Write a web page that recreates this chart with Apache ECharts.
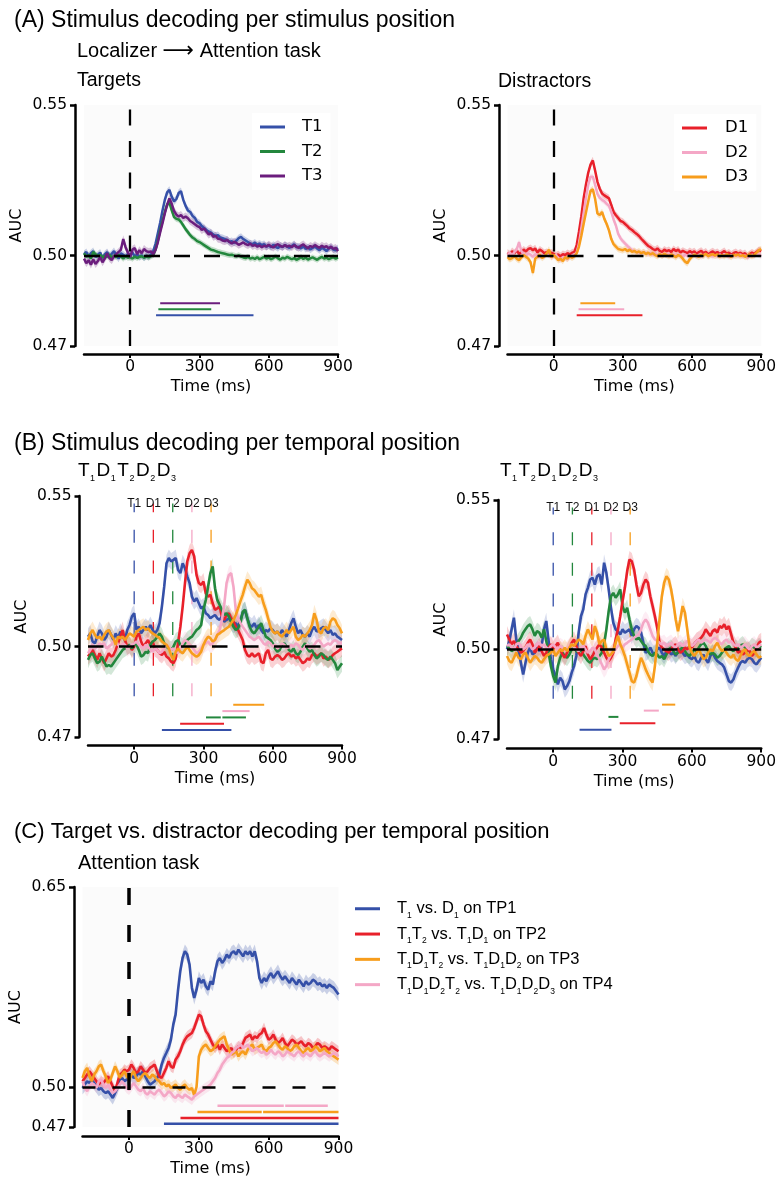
<!DOCTYPE html>
<html>
<head>
<meta charset="utf-8">
<script src="https://cdn.jsdelivr.net/npm/echarts@6/dist/echarts.min.js"></script>
<style>html,body{margin:0;padding:0;background:#fff}#chart{width:779px;height:1180px}</style>
</head>
<body>
<div id="chart"></div>
<script>
// ---------- sampling grid (ms) ----------
const TIME_START = -200, TIME_STEP = 10, N_SAMPLES = 111;
const times = [];
for (let i = 0; i < N_SAMPLES; i++) times.push(TIME_START + i * TIME_STEP);

// ---------- tick labels ----------
const xTickValues = [0, 300, 600, 900];
const yTicksStim = [0.47, 0.50, 0.55];
const yTicksTP = [0.47, 0.50, 0.65];
const CHANCE = 0.5, ONSET = 0;

// ---------- (A) Targets ----------
const aT1 = [0.5005,0.5012,0.4998,0.5008,0.5015,0.4995,0.5003,0.5010,0.4992,0.5004,
0.5012,0.4998,0.5006,0.5015,0.5001,0.4990,0.5008,0.5003,0.4996,0.5005,
0.5002,0.5010,0.4997,0.5004,0.4995,0.5001,0.4993,0.5000,0.4996,0.5003,
0.5015,0.5040,0.5075,0.5110,0.5150,0.5185,0.5210,0.5218,0.5195,0.5180,
0.5188,0.5208,0.5214,0.5185,0.5165,0.5150,0.5145,0.5132,0.5125,0.5112,
0.5108,0.5098,0.5092,0.5085,0.5080,0.5076,0.5070,0.5066,0.5068,0.5060,
0.5058,0.5055,0.5052,0.5046,0.5048,0.5042,0.5050,0.5058,0.5062,0.5055,
0.5050,0.5045,0.5040,0.5038,0.5043,0.5036,0.5040,0.5035,0.5038,0.5030,
0.5034,0.5028,0.5036,0.5030,0.5025,0.5033,0.5028,0.5035,0.5030,0.5026,
0.5032,0.5038,0.5028,0.5030,0.5024,0.5031,0.5022,0.5028,0.5020,0.5026,
0.5030,0.5024,0.5018,0.5026,0.5022,0.5015,0.5024,0.5028,0.5020,0.5018,0.5025];
const aT2 = [0.5008,0.4996,0.5002,0.4990,0.5012,0.5005,0.4998,0.5003,0.4994,0.5000,
0.4996,0.5004,0.4993,0.5000,0.4995,0.5002,0.4997,0.4990,0.4998,0.4993,
0.4995,0.4990,0.4997,0.4992,0.4996,0.4998,0.4993,0.4997,0.4994,0.4998,
0.5002,0.5020,0.5050,0.5085,0.5115,0.5145,0.5170,0.5175,0.5150,0.5128,
0.5122,0.5120,0.5112,0.5100,0.5088,0.5078,0.5068,0.5060,0.5055,0.5048,
0.5045,0.5040,0.5035,0.5030,0.5025,0.5020,0.5018,0.5015,0.5012,0.5010,
0.5008,0.5006,0.5004,0.5002,0.5003,0.5000,0.4998,0.5001,0.4997,0.4994,
0.4992,0.4996,0.4990,0.4993,0.4989,0.4995,0.4988,0.4992,0.4996,0.4990,
0.4994,0.4988,0.4992,0.4997,0.4991,0.4987,0.4993,0.4990,0.4996,0.4992,
0.4988,0.4992,0.4986,0.4990,0.4995,0.4989,0.4993,0.4987,0.4991,0.4994,
0.4990,0.4986,0.4992,0.4996,0.4990,0.4993,0.4988,0.4992,0.4995,0.4990,0.4994];
const aT3 = [0.4990,0.4975,0.4985,0.4970,0.4988,0.4972,0.4982,0.4995,0.4978,0.4990,
0.5008,0.4992,0.4985,0.4998,0.5005,0.5012,0.5020,0.5055,0.5028,0.5010,
0.4995,0.5020,0.5025,0.5005,0.5018,0.5008,0.5022,0.5015,0.5012,0.5014,
0.5005,0.5020,0.5045,0.5078,0.5108,0.5140,0.5168,0.5190,0.5172,0.5148,
0.5136,0.5130,0.5135,0.5125,0.5130,0.5124,0.5115,0.5110,0.5104,0.5098,
0.5095,0.5085,0.5090,0.5080,0.5070,0.5075,0.5062,0.5066,0.5056,0.5055,
0.5050,0.5048,0.5052,0.5045,0.5040,0.5046,0.5042,0.5036,0.5040,0.5044,
0.5038,0.5035,0.5040,0.5032,0.5036,0.5030,0.5034,0.5028,0.5033,0.5030,
0.5036,0.5031,0.5027,0.5034,0.5038,0.5032,0.5029,0.5035,0.5030,0.5033,
0.5028,0.5035,0.5030,0.5026,0.5033,0.5037,0.5030,0.5024,0.5032,0.5028,
0.5035,0.5030,0.5026,0.5033,0.5028,0.5031,0.5024,0.5030,0.5022,0.5026,0.5015];

// ---------- (A) Distractors ----------
const aD1 = [0.5010,0.5003,0.5015,0.5008,0.5018,0.5005,0.5012,0.5020,0.5014,0.5022,
0.5025,0.5018,0.5024,0.5010,0.5020,0.5015,0.5008,0.5012,0.5005,0.5010,
0.5006,0.5000,0.5004,0.4998,0.5005,0.5002,0.5008,0.5004,0.5010,0.5012,
0.5035,0.5080,0.5130,0.5190,0.5235,0.5275,0.5302,0.5316,0.5282,0.5245,
0.5222,0.5206,0.5200,0.5195,0.5190,0.5168,0.5145,0.5134,0.5125,0.5115,
0.5112,0.5105,0.5098,0.5090,0.5085,0.5078,0.5072,0.5065,0.5056,0.5048,
0.5040,0.5032,0.5028,0.5022,0.5018,0.5024,0.5016,0.5012,0.5020,0.5015,
0.5018,0.5012,0.5022,0.5015,0.5020,0.5010,0.5016,0.5012,0.5008,0.5015,
0.5010,0.5014,0.5006,0.5012,0.5016,0.5008,0.5013,0.5004,0.5010,0.5014,
0.5008,0.5012,0.5005,0.5010,0.5015,0.5006,0.5010,0.5003,0.5008,0.5012,
0.5006,0.5010,0.5004,0.5008,0.4998,0.5005,0.5010,0.5006,0.5012,0.5018,0.5015];
const aD2 = [0.5002,0.5010,0.5000,0.5012,0.5020,0.5045,0.5015,0.5005,0.4998,0.5008,
0.5003,0.4996,0.5005,0.5000,0.4994,0.5002,0.4998,0.5006,0.5001,0.4995,
0.4998,0.5003,0.4990,0.4985,0.4995,0.4992,0.4988,0.4996,0.5000,0.5004,
0.5010,0.5040,0.5090,0.5140,0.5190,0.5235,0.5262,0.5262,0.5235,0.5205,
0.5192,0.5185,0.5180,0.5172,0.5165,0.5145,0.5120,0.5100,0.5072,0.5058,
0.5048,0.5040,0.5032,0.5025,0.5018,0.5015,0.5012,0.5010,0.5008,0.5012,
0.5008,0.5005,0.5010,0.5003,0.5008,0.5002,0.5006,0.5000,0.5005,0.5002,
0.5006,0.5000,0.5004,0.4998,0.5005,0.5001,0.4996,0.5003,0.4999,0.5004,
0.5000,0.5005,0.4998,0.5003,0.4996,0.5002,0.5006,0.4999,0.5003,0.4997,
0.5002,0.4998,0.5004,0.4999,0.5005,0.5000,0.4996,0.5002,0.4998,0.5003,
0.4999,0.5004,0.4997,0.5001,0.4994,0.4998,0.5003,0.4999,0.5006,0.5003,0.4998];
const aD3 = [0.4995,0.4988,0.4992,0.4998,0.4990,0.4985,0.4994,0.5002,0.4996,0.4990,
0.4978,0.4942,0.4990,0.4996,0.5003,0.4992,0.4998,0.5008,0.5020,0.4995,
0.5003,0.4994,0.4985,0.4990,0.4982,0.4995,0.4990,0.4998,0.4993,0.4998,
0.5008,0.5030,0.5065,0.5105,0.5142,0.5180,0.5215,0.5220,0.5188,0.5140,
0.5135,0.5145,0.5122,0.5105,0.5084,0.5055,0.5038,0.5030,0.5022,0.5020,
0.5018,0.5022,0.5015,0.5020,0.5012,0.5016,0.5010,0.5014,0.5008,0.5012,
0.5005,0.5010,0.5004,0.5008,0.5002,0.4998,0.5005,0.5000,0.5006,0.5002,
0.4998,0.5004,0.5000,0.4995,0.5002,0.4998,0.4990,0.4980,0.4975,0.4988,
0.4998,0.5004,0.5000,0.4996,0.5003,0.5000,0.5006,0.4998,0.5002,0.5005,
0.5000,0.5004,0.4997,0.5002,0.4998,0.5005,0.5001,0.4996,0.5003,0.5000,
0.5004,0.4998,0.5002,0.4996,0.5000,0.5004,0.4998,0.5003,0.5010,0.5018,0.5022];

// ---------- (B) T1 D1 T2 D2 D3 ----------
const blT1 = [0.5033,0.5044,0.5017,0.5011,0.5033,0.5055,0.5044,0.5022,0.5033,0.5055,
0.5039,0.5022,0.5044,0.5028,0.5050,0.5033,0.5022,0.5055,0.5072,0.5100,
0.5111,0.5055,0.5066,0.5044,0.5055,0.5066,0.5055,0.5072,0.5055,0.5044,
0.5055,0.5078,0.5133,0.5199,0.5277,0.5294,0.5283,0.5288,0.5294,0.5255,
0.5244,0.5277,0.5260,0.5233,0.5211,0.5166,0.5150,0.5161,0.5144,0.5127,
0.5133,0.5111,0.5105,0.5094,0.5100,0.5105,0.5094,0.5089,0.5100,0.5083,
0.5089,0.5094,0.5083,0.5072,0.5078,0.5066,0.5089,0.5111,0.5122,0.5094,
0.5072,0.5066,0.5078,0.5061,0.5072,0.5055,0.5044,0.5055,0.5050,0.5061,
0.5055,0.5044,0.5050,0.5039,0.5055,0.5044,0.5033,0.5055,0.5078,0.5094,
0.5066,0.5044,0.5055,0.5039,0.5033,0.5044,0.5033,0.5055,0.5066,0.5050,
0.5055,0.5061,0.5066,0.5055,0.5044,0.5055,0.5039,0.5044,0.5033,0.5028,0.5022];
const blD1 = [0.4967,0.4978,0.4989,0.4972,0.4956,0.4978,0.4961,0.4945,0.4961,0.4978,
0.4967,0.4972,0.4989,0.5011,0.5033,0.5055,0.5022,0.5000,0.5006,0.4989,
0.5000,0.5033,0.5044,0.5017,0.5000,0.5011,0.5022,0.5006,0.5017,0.4994,
0.4989,0.4978,0.4972,0.4983,0.4967,0.4961,0.4950,0.4945,0.4961,0.5011,
0.5066,0.5133,0.5211,0.5283,0.5310,0.5321,0.5299,0.5238,0.5211,0.5205,
0.5216,0.5177,0.5166,0.5172,0.5144,0.5122,0.5127,0.5133,0.5100,0.5089,
0.5105,0.5111,0.5094,0.5083,0.5066,0.5055,0.5039,0.5022,0.4989,0.4972,
0.4967,0.4978,0.4967,0.4972,0.4978,0.4950,0.4945,0.4978,0.4989,0.4961,
0.4956,0.4967,0.4972,0.4967,0.4956,0.4961,0.4972,0.4978,0.4967,0.4972,
0.4961,0.4967,0.4956,0.4945,0.4950,0.4961,0.4956,0.4972,0.4978,0.4967,
0.4972,0.4978,0.4961,0.4967,0.4956,0.4961,0.4972,0.4978,0.4983,0.4989,0.4994];
const blT2 = [0.4956,0.4972,0.4978,0.4961,0.4945,0.4950,0.4967,0.4950,0.4934,0.4939,
0.4934,0.4945,0.4956,0.4967,0.4978,0.4989,0.4994,0.5000,0.5006,0.4994,
0.5011,0.5006,0.4989,0.4967,0.4972,0.4983,0.4978,0.5006,0.5017,0.5022,
0.5033,0.5044,0.5033,0.5011,0.5000,0.4994,0.4989,0.5000,0.5017,0.5022,
0.5006,0.5000,0.5011,0.5022,0.5028,0.5033,0.5044,0.5055,0.5061,0.5072,
0.5122,0.5155,0.5199,0.5244,0.5266,0.5194,0.5155,0.5139,0.5122,0.5105,
0.5111,0.5100,0.5083,0.5066,0.5055,0.5061,0.5078,0.5116,0.5122,0.5094,
0.5066,0.5050,0.5044,0.5055,0.5066,0.5078,0.5055,0.5033,0.5028,0.5022,
0.5011,0.4994,0.4983,0.4989,0.5006,0.5011,0.5000,0.4989,0.4983,0.4994,
0.4978,0.4972,0.4983,0.5000,0.5011,0.4994,0.4983,0.4989,0.4972,0.4961,
0.4967,0.4978,0.4972,0.4961,0.4956,0.4967,0.4956,0.4945,0.4922,0.4934,0.4945];
const blD2 = [0.4978,0.4989,0.5006,0.4994,0.5000,0.5011,0.5006,0.5011,0.4994,0.5000,
0.5006,0.5017,0.5022,0.5006,0.5000,0.5011,0.5006,0.4994,0.5000,0.5006,
0.5011,0.5017,0.5006,0.5000,0.4994,0.5006,0.5000,0.4989,0.4983,0.4994,
0.4989,0.4978,0.4983,0.4994,0.5006,0.5000,0.4989,0.4994,0.4983,0.4978,
0.4994,0.5011,0.5022,0.5017,0.5006,0.5000,0.4989,0.4978,0.4983,0.4994,
0.5006,0.5011,0.5017,0.5006,0.5011,0.5022,0.5039,0.5055,0.5089,0.5139,
0.5211,0.5238,0.5244,0.5199,0.5122,0.5094,0.5078,0.5066,0.5055,0.5044,
0.5033,0.5028,0.5022,0.5028,0.5033,0.5022,0.5011,0.5006,0.5017,0.5011,
0.5000,0.5006,0.4994,0.5000,0.5011,0.5006,0.4994,0.5000,0.5006,0.5000,
0.5011,0.5006,0.4994,0.4989,0.5000,0.5006,0.4994,0.5000,0.5006,0.5017,
0.5022,0.5011,0.5000,0.5006,0.5011,0.5006,0.5017,0.5022,0.5017,0.5011,0.5011];
const blD3 = [0.5022,0.5044,0.5055,0.5039,0.5028,0.5033,0.5022,0.5039,0.5050,0.5055,
0.5039,0.5028,0.5006,0.5033,0.5028,0.5033,0.5022,0.5033,0.5044,0.5039,
0.5033,0.5050,0.5055,0.5061,0.5066,0.5055,0.5061,0.5050,0.5044,0.5039,
0.5033,0.5028,0.5017,0.5011,0.5006,0.4994,0.4972,0.4956,0.4983,0.4994,
0.4983,0.4978,0.4989,0.5000,0.4989,0.4978,0.4972,0.4967,0.4972,0.4983,
0.5006,0.5022,0.5033,0.5028,0.5017,0.5022,0.5039,0.5044,0.5050,0.5055,
0.5061,0.5066,0.5078,0.5089,0.5105,0.5127,0.5150,0.5172,0.5199,0.5222,
0.5211,0.5194,0.5188,0.5177,0.5166,0.5172,0.5144,0.5122,0.5094,0.5066,
0.5050,0.5044,0.5050,0.5039,0.5033,0.5044,0.5055,0.5044,0.5055,0.5066,
0.5033,0.5022,0.5028,0.5039,0.5033,0.5044,0.5055,0.5072,0.5111,0.5089,
0.5050,0.5044,0.5061,0.5066,0.5055,0.5083,0.5094,0.5089,0.5072,0.5061,0.5044];

// ---------- (B) T1 T2 D1 D2 D3 ----------
const brT1 = [0.5000,0.5028,0.5067,0.5106,0.5033,0.4994,0.4955,0.4916,0.4955,0.4989,
0.5006,0.4983,0.4989,0.5006,0.4994,0.5011,0.5067,0.5095,0.5028,0.4967,
0.4933,0.4911,0.4883,0.4905,0.4894,0.4866,0.4877,0.4894,0.4922,0.4944,
0.4978,0.5056,0.5111,0.5134,0.5184,0.5206,0.5234,0.5240,0.5217,0.5245,
0.5251,0.5217,0.5290,0.5256,0.5201,0.5139,0.5089,0.5067,0.5061,0.5050,
0.5067,0.5056,0.5061,0.5067,0.5045,0.5067,0.5078,0.5072,0.5056,0.5022,
0.4989,0.4994,0.5006,0.4989,0.4983,0.5000,0.5006,0.4989,0.4978,0.4994,
0.5000,0.4983,0.4989,0.4978,0.4994,0.5000,0.4989,0.4978,0.4983,0.4972,
0.4967,0.4978,0.4961,0.4955,0.4972,0.4983,0.4967,0.4955,0.4978,0.4989,
0.4972,0.4961,0.4955,0.4950,0.4939,0.4916,0.4894,0.4889,0.4900,0.4922,
0.4939,0.4955,0.4961,0.4955,0.4967,0.4972,0.4967,0.4955,0.4950,0.4961,0.4972];
const brT2 = [0.5011,0.5006,0.4994,0.5000,0.5017,0.5028,0.5039,0.5056,0.5067,0.5078,
0.5084,0.5067,0.5045,0.5061,0.5056,0.5039,0.5067,0.5028,0.4989,0.4944,
0.4911,0.4889,0.4944,0.4972,0.4989,0.4978,0.4972,0.4983,0.5000,0.5006,
0.4994,0.4989,0.5000,0.4983,0.4972,0.4961,0.4955,0.4967,0.4972,0.4967,
0.4978,0.4989,0.5017,0.5067,0.5128,0.5178,0.5189,0.5173,0.5184,0.5201,
0.5145,0.5123,0.5139,0.5100,0.5067,0.5045,0.5033,0.5039,0.5028,0.5017,
0.5011,0.4994,0.4983,0.4978,0.4989,0.4983,0.4972,0.4978,0.4967,0.4983,
0.5000,0.5006,0.4994,0.4983,0.4989,0.5000,0.5006,0.4994,0.4983,0.4978,
0.4989,0.5000,0.4994,0.5006,0.5017,0.5022,0.5011,0.4994,0.4983,0.4989,
0.4983,0.4972,0.4978,0.4989,0.5000,0.5006,0.5011,0.5000,0.4994,0.5006,
0.5000,0.5011,0.5017,0.5006,0.4994,0.5000,0.5011,0.5006,0.5000,0.5011,0.5006];
const brD1 = [0.5050,0.5033,0.5017,0.5028,0.5011,0.5000,0.4989,0.4994,0.5006,0.5022,
0.5033,0.5017,0.4989,0.5000,0.5011,0.4994,0.4978,0.4989,0.5006,0.5017,
0.5000,0.5011,0.5022,0.5000,0.4983,0.4972,0.4989,0.5006,0.5022,0.5033,
0.5011,0.4989,0.4978,0.4994,0.5011,0.4983,0.4967,0.4978,0.4994,0.5006,
0.5017,0.5006,0.4989,0.4972,0.4961,0.4972,0.4989,0.5033,0.5067,0.5111,
0.5162,0.5206,0.5262,0.5301,0.5295,0.5267,0.5217,0.5178,0.5189,0.5217,
0.5234,0.5223,0.5178,0.5145,0.5111,0.5072,0.5022,0.5006,0.5000,0.4994,
0.4989,0.5000,0.5011,0.5017,0.5000,0.4989,0.4994,0.5006,0.5000,0.5011,
0.5006,0.5017,0.5028,0.5033,0.5039,0.5050,0.5067,0.5056,0.5045,0.5061,
0.5067,0.5056,0.5078,0.5072,0.5084,0.5067,0.5078,0.5050,0.5022,0.5006,
0.4989,0.4994,0.4983,0.4989,0.5000,0.4994,0.4978,0.4989,0.5006,0.5022,0.5028];
const brD2 = [0.5011,0.5017,0.5006,0.5000,0.5017,0.5022,0.5011,0.5000,0.5006,0.5017,
0.5011,0.5000,0.5006,0.5017,0.5022,0.5011,0.5017,0.5006,0.5000,0.5011,
0.5017,0.5006,0.5000,0.5011,0.5006,0.4994,0.5000,0.5011,0.5017,0.5006,
0.5000,0.4994,0.5006,0.5011,0.5000,0.4989,0.4994,0.5006,0.5000,0.4983,
0.4967,0.4950,0.4933,0.4944,0.4967,0.4983,0.4994,0.5000,0.5011,0.5017,
0.5006,0.5017,0.5022,0.5028,0.5033,0.5039,0.5045,0.5050,0.5067,0.5089,
0.5100,0.5089,0.5067,0.5045,0.5033,0.5028,0.5022,0.5017,0.5022,0.5011,
0.5017,0.5022,0.5011,0.5006,0.5017,0.5022,0.5011,0.5017,0.5028,0.5022,
0.5011,0.5017,0.5028,0.5033,0.5022,0.5028,0.5033,0.5028,0.5022,0.5033,
0.5039,0.5033,0.5022,0.5017,0.5028,0.5033,0.5022,0.5028,0.5017,0.5011,
0.5017,0.5006,0.5011,0.5017,0.5006,0.5000,0.5011,0.5017,0.5006,0.5011,0.5017];
const brD3 = [0.4978,0.4961,0.4955,0.4972,0.4989,0.4972,0.4967,0.4983,0.4989,0.4972,
0.4955,0.4967,0.4978,0.4972,0.4961,0.4955,0.4967,0.4978,0.4983,0.4989,
0.5000,0.4978,0.4989,0.5000,0.4994,0.5006,0.4994,0.5006,0.5017,0.5011,
0.5022,0.5033,0.5028,0.5017,0.5045,0.5067,0.5050,0.5033,0.5078,0.5056,
0.5017,0.5028,0.5033,0.5000,0.4978,0.4983,0.4994,0.5022,0.5045,0.5017,
0.5000,0.4978,0.4950,0.4922,0.4894,0.4889,0.4911,0.4944,0.4972,0.4955,
0.4933,0.4916,0.4900,0.4889,0.4944,0.5022,0.5100,0.5178,0.5223,0.5245,
0.5234,0.5201,0.5156,0.5100,0.5061,0.5100,0.5145,0.5123,0.5067,0.5006,
0.4989,0.4978,0.4989,0.5000,0.4983,0.4967,0.4972,0.4989,0.5000,0.4994,
0.5011,0.5022,0.5006,0.4994,0.5000,0.4989,0.4978,0.4972,0.4983,0.4967,
0.4961,0.4978,0.4994,0.5000,0.4983,0.4978,0.4989,0.4994,0.4983,0.4972,0.4978];

// ---------- (C) target vs distractor per temporal position ----------
const cTP1 = [0.4993,0.5018,0.5043,0.5030,0.5055,0.5030,0.5005,0.4980,0.4993,0.4968,
0.4955,0.4968,0.4943,0.4918,0.4955,0.4993,0.5055,0.5068,0.5043,0.5055,
0.5080,0.5093,0.5068,0.5080,0.5105,0.5093,0.5118,0.5080,0.5043,0.5018,
0.5030,0.5043,0.5068,0.5093,0.5168,0.5218,0.5255,0.5293,0.5355,0.5468,
0.5543,0.5718,0.5868,0.5968,0.6018,0.5993,0.5918,0.5743,0.5668,0.5730,
0.5818,0.5780,0.5805,0.5755,0.5730,0.5793,0.5768,0.5868,0.5943,0.5968,
0.5930,0.5955,0.5993,0.5968,0.6005,0.6018,0.5993,0.6030,0.6005,0.5980,
0.6018,0.5993,0.6018,0.5980,0.6018,0.5943,0.5818,0.5780,0.5818,0.5793,
0.5830,0.5855,0.5818,0.5843,0.5868,0.5830,0.5805,0.5830,0.5805,0.5780,
0.5818,0.5793,0.5768,0.5805,0.5780,0.5755,0.5793,0.5768,0.5780,0.5805,
0.5793,0.5768,0.5780,0.5755,0.5768,0.5743,0.5768,0.5755,0.5743,0.5718,0.5693];
const cTP2 = [0.5043,0.5068,0.5093,0.5118,0.5093,0.5068,0.5043,0.5018,0.5043,0.5030,
0.5055,0.5080,0.5043,0.5005,0.4968,0.5030,0.5093,0.5105,0.5130,0.5118,
0.5130,0.5168,0.5143,0.5105,0.5118,0.5155,0.5130,0.5105,0.5118,0.5143,
0.5155,0.5168,0.5118,0.5080,0.5068,0.5105,0.5143,0.5193,0.5155,0.5143,
0.5205,0.5230,0.5268,0.5318,0.5355,0.5380,0.5393,0.5405,0.5443,0.5493,
0.5543,0.5530,0.5468,0.5418,0.5393,0.5355,0.5318,0.5293,0.5318,0.5280,
0.5318,0.5293,0.5268,0.5280,0.5293,0.5255,0.5280,0.5305,0.5293,0.5330,
0.5368,0.5380,0.5393,0.5355,0.5380,0.5368,0.5393,0.5405,0.5443,0.5393,
0.5355,0.5368,0.5393,0.5355,0.5330,0.5343,0.5368,0.5330,0.5305,0.5330,
0.5355,0.5343,0.5318,0.5330,0.5343,0.5318,0.5305,0.5330,0.5318,0.5293,
0.5305,0.5330,0.5318,0.5293,0.5305,0.5293,0.5280,0.5305,0.5293,0.5280,0.5268];
const cTP3 = [0.5068,0.5118,0.5143,0.5080,0.5043,0.5093,0.5118,0.5155,0.5168,0.5118,
0.5080,0.5030,0.5055,0.5105,0.5155,0.5118,0.5068,0.5093,0.5118,0.5080,
0.5055,0.5093,0.5118,0.5068,0.5043,0.5068,0.5093,0.5105,0.5080,0.5068,
0.5093,0.5080,0.5055,0.5043,0.5018,0.5030,0.5005,0.5018,0.4993,0.5005,
0.5018,0.4993,0.4980,0.5005,0.5018,0.4993,0.4980,0.4993,0.4940,0.5000,
0.5230,0.5280,0.5305,0.5318,0.5293,0.5268,0.5280,0.5305,0.5330,0.5355,
0.5368,0.5380,0.5318,0.5280,0.5243,0.5255,0.5268,0.5230,0.5255,0.5268,
0.5243,0.5280,0.5305,0.5318,0.5280,0.5293,0.5305,0.5318,0.5280,0.5268,
0.5293,0.5305,0.5330,0.5343,0.5318,0.5293,0.5280,0.5305,0.5293,0.5268,
0.5280,0.5305,0.5318,0.5293,0.5268,0.5255,0.5280,0.5293,0.5268,0.5280,
0.5305,0.5293,0.5268,0.5280,0.5293,0.5268,0.5255,0.5243,0.5230,0.5218,0.5205];
const cTP4 = [0.5043,0.4993,0.4968,0.5005,0.5030,0.5018,0.4993,0.5043,0.5055,0.5018,
0.4993,0.5018,0.4980,0.4955,0.4968,0.4993,0.5018,0.5043,0.5018,0.4993,
0.4980,0.5005,0.5030,0.5005,0.4980,0.4968,0.4993,0.4955,0.4943,0.4968,
0.4955,0.4943,0.4968,0.4980,0.4955,0.4930,0.4943,0.4968,0.4955,0.4930,
0.4918,0.4943,0.4930,0.4918,0.4943,0.4930,0.4918,0.4905,0.4930,0.4943,
0.4955,0.4968,0.4980,0.4993,0.5005,0.5018,0.5043,0.5068,0.5105,0.5130,
0.5168,0.5193,0.5218,0.5230,0.5255,0.5268,0.5293,0.5305,0.5318,0.5293,
0.5305,0.5318,0.5293,0.5268,0.5280,0.5293,0.5268,0.5255,0.5268,0.5243,
0.5255,0.5280,0.5255,0.5243,0.5268,0.5255,0.5230,0.5243,0.5268,0.5255,
0.5243,0.5230,0.5255,0.5268,0.5243,0.5230,0.5255,0.5243,0.5230,0.5255,
0.5268,0.5243,0.5230,0.5243,0.5255,0.5243,0.5230,0.5243,0.5255,0.5243,0.5230];

// half-width of the shaded error bands (AUC)
const semA = {T1:0.0012, T2:0.0010, T3:0.0013, D1:0.0012, D2:0.0010, D3:0.0011};
const semB = 0.0028;
const semC = {TP1:0.0050, TP2:0.0040, TP3:0.0040, TP4:0.0040};

// ---------- significance bars: [condition, start ms, end ms, AUC level] ----------
const sigTargets = [['T3',130,389,0.4842],['T2',122,351,0.4822],['T1',112,534,0.4802]];
const sigDistractors = [['D3',116,267,0.4842],['D2',108,306,0.4822],['D1',100,385,0.4802]];
const sigSeqA = [['D3',429,563,0.4807],['D2',382,500,0.4786],['T2',311,375,0.4765],['T2',382,484,0.4765],['D1',199,389,0.4744],['T1',120,421,0.4723]];
const sigSeqB = [['D3',471,528,0.4815],['D2',392,457,0.4795],['T2',239,282,0.4774],['D1',288,442,0.4753],['T1',114,252,0.4731]];
const sigTP = [['TP4',380,665,0.4860],['TP4',671,854,0.4860],['TP3',294,570,0.4812],['TP3',576,900,0.4812],['TP2',221,900,0.4767],['TP1',150,900,0.4725]];

// ---------- stimulus onsets in the sequences (ms) ----------
const eventsSeqA = [['T1',0],['D1',83],['T2',167],['D2',250],['D3',333]];
const eventsSeqB = [['T1',0],['T2',83],['D1',167],['D2',250],['D3',333]];

// ---------- legend names ----------
const namesC = ['T1 vs. D1 on TP1','T1T2 vs. T1D1 on TP2','T1D1T2 vs. T1D1D2 on TP3','T1D1D2T2 vs. T1D1D2D3 on TP4'];

// ================= styling / construction =================
const COLORS = {T1:'#3550a8', T2:'#23873d', T3:'#6b1d7d', D1:'#e8202a', D2:'#f4a7c6', D3:'#f79d1c',
                TP1:'#3550a8', TP2:'#e8202a', TP3:'#f79d1c', TP4:'#f4a7c6'};
const EVENT_TOP = 0.5475, EVENT_BOTTOM = 0.4835;
const SANS = 'Liberation Sans';
const DV = 'DejaVu Sans';

function pairs(vals) { return vals.map((v, i) => [times[i], v]); }

function lineSeries(name, g, vals, key, width, extra) {
  return Object.assign({
    type: 'line', name, xAxisIndex: g, yAxisIndex: g, data: pairs(vals),
    symbol: 'none', showSymbol: false, silent: true, animation: false, z: 2,
    lineStyle: {color: COLORS[key], width: width}, itemStyle: {color: COLORS[key]},
    emphasis: {disabled: true}
  }, extra || {});
}

function bandSeries(g, vals, sem, key, alpha) {
  return {
    type: 'custom', xAxisIndex: g, yAxisIndex: g, silent: true, animation: false, z: 1, clip: true,
    data: [[TIME_START, CHANCE]], encode: {x: 0, y: 1},
    renderItem: function (params, api) {
      const up = [], lo = [];
      for (let i = 0; i < vals.length; i++) {
        up.push(api.coord([times[i], vals[i] + sem]));
        lo.push(api.coord([times[i], vals[i] - sem]));
      }
      return {type: 'polygon', shape: {points: up.concat(lo.reverse())},
              style: {fill: COLORS[key], opacity: alpha}};
    }
  };
}

function sigSeries(g, bars, width) {
  return {
    type: 'custom', xAxisIndex: g, yAxisIndex: g, silent: true, animation: false, z: 3, clip: false,
    data: bars.map(b => [b[1], b[2], b[3]]), encode: {x: [0, 1], y: 2},
    renderItem: function (params, api) {
      const key = bars[params.dataIndex][0];
      const p1 = api.coord([api.value(0), api.value(2)]);
      const p2 = api.coord([api.value(1), api.value(2)]);
      return {type: 'line', shape: {x1: p1[0], y1: p1[1], x2: p2[0], y2: p2[1]},
              style: {stroke: COLORS[key], lineWidth: width}};
    }
  };
}

function eventSeries(g, events) {
  return {
    type: 'custom', xAxisIndex: g, yAxisIndex: g, silent: true, animation: false, z: 1, clip: false,
    data: events.map(e => [e[1], CHANCE]), encode: {x: 0, y: 1},
    renderItem: function (params, api) {
      const key = events[params.dataIndex][0];
      const b = api.coord([api.value(0), EVENT_BOTTOM]);
      const t = api.coord([api.value(0), EVENT_TOP]);
      return {type: 'group', children: [
        {type: 'line', shape: {x1: b[0], y1: b[1], x2: t[0], y2: t[1]},
         style: {stroke: COLORS[key], lineWidth: 1.3, lineDash: [13, 17.7]}},
        {type: 'text', x: t[0], y: t[1], z2: 10,
         style: {text: key, fill: '#111', fontSize: 12, fontFamily: SANS, align: 'center', verticalAlign: 'middle'}}
      ]};
    }
  };
}

function refLines(withOnset, hDash, hWidth, vDash, vWidth) {
  const data = [{yAxis: CHANCE, lineStyle: {color: '#000', type: hDash, width: hWidth}}];
  if (withOnset) data.push({xAxis: ONSET, lineStyle: {color: '#000', type: vDash, width: vWidth}});
  return {silent: true, symbol: ['none', 'none'], label: {show: false}, animation: false, z: 5, data};
}

function xAxisFor(g, offset) {
  return {gridIndex: g, type: 'value', min: -200, max: 900, offset,
    axisLine: {show: true, onZero: false, lineStyle: {color: '#000', width: 2.5}},
    axisTick: {show: true, customValues: xTickValues, length: 4, lineStyle: {color: '#000', width: 2}},
    axisLabel: {customValues: xTickValues, color: '#000', fontSize: 15.5, fontFamily: DV, margin: 5},
    splitLine: {show: false},
    name: 'Time (ms)', nameLocation: 'middle', nameGap: 25,
    nameTextStyle: {color: '#000', fontSize: 16, fontFamily: DV}};
}
function yAxisFor(g, min, max, ticks, offset) {
  return {gridIndex: g, type: 'value', min, max, offset,
    axisLine: {show: true, onZero: false, lineStyle: {color: '#000', width: 2.5}},
    axisTick: {show: true, customValues: ticks, length: 5, lineStyle: {color: '#000', width: 2.5}},
    axisLabel: {customValues: ticks, formatter: v => v.toFixed(2), color: '#000', fontSize: 15.5, fontFamily: DV, margin: 8},
    splitLine: {show: false},
    name: 'AUC', nameLocation: 'middle', nameRotate: 90, nameGap: 50,
    nameTextStyle: {color: '#000', fontSize: 16, fontFamily: DV}};
}

function toRich(s) {
  return ('{n|' + s.replace(/([TD])(\d)/g, '$1}{s|$2}{n|') + '}').replace(/\{n\|\}/g, '');
}
const richText = (size, sub, subPad) => ({
  n: {fontSize: size, fontFamily: SANS, color: '#000', lineHeight: size + 3},
  s: {fontSize: sub, fontFamily: SANS, color: '#000', height: 6, lineHeight: 6, verticalAlign: 'bottom',
      padding: subPad || [0, 0, 0, 0]}
});

const series = [];
// bands
[['T1',aT1],['T2',aT2],['T3',aT3]].forEach(([k,v]) => series.push(bandSeries(0, v, semA[k], k, 0.25)));
[['D1',aD1],['D2',aD2],['D3',aD3]].forEach(([k,v]) => series.push(bandSeries(1, v, semA[k], k, 0.25)));
[['T1',blT1],['D1',blD1],['T2',blT2],['D2',blD2],['D3',blD3]].forEach(([k,v]) => series.push(bandSeries(2, v, semB, k, 0.2)));
[['T1',brT1],['T2',brT2],['D1',brD1],['D2',brD2],['D3',brD3]].forEach(([k,v]) => series.push(bandSeries(3, v, semB, k, 0.2)));
[['TP1',cTP1],['TP2',cTP2],['TP3',cTP3],['TP4',cTP4]].forEach(([k,v]) => series.push(bandSeries(4, v, semC[k], k, 0.25)));
// event onset markers
series.push(eventSeries(2, eventsSeqA));
series.push(eventSeries(3, eventsSeqB));
// lines
series.push(lineSeries('T1', 0, aT1, 'T1', 2.5, {markLine: refLines(true, [16,14], 2.3, [16,15.5], 2.3)}));
series.push(lineSeries('T2', 0, aT2, 'T2', 2.5));
series.push(lineSeries('T3', 0, aT3, 'T3', 2.5));
series.push(lineSeries('D1', 1, aD1, 'D1', 2.5, {markLine: refLines(true, [16,14], 2.3, [16,15.5], 2.3)}));
series.push(lineSeries('D2', 1, aD2, 'D2', 2.5));
series.push(lineSeries('D3', 1, aD3, 'D3', 2.5));
series.push(lineSeries('seqA T1', 2, blT1, 'T1', 2.6, {markLine: refLines(false, [15.5,15.5], 2.7)}));
series.push(lineSeries('seqA D1', 2, blD1, 'D1', 2.6));
series.push(lineSeries('seqA T2', 2, blT2, 'T2', 2.6));
series.push(lineSeries('seqA D2', 2, blD2, 'D2', 2.6));
series.push(lineSeries('seqA D3', 2, blD3, 'D3', 2.6));
series.push(lineSeries('seqB T1', 3, brT1, 'T1', 2.6, {markLine: refLines(false, [15.5,15.5], 2.7)}));
series.push(lineSeries('seqB T2', 3, brT2, 'T2', 2.6));
series.push(lineSeries('seqB D1', 3, brD1, 'D1', 2.6));
series.push(lineSeries('seqB D2', 3, brD2, 'D2', 2.6));
series.push(lineSeries('seqB D3', 3, brD3, 'D3', 2.6));
series.push(lineSeries(namesC[0], 4, cTP1, 'TP1', 2.6, {markLine: refLines(true, [13,17], 2.5, [17,20], 3.5)}));
series.push(lineSeries(namesC[1], 4, cTP2, 'TP2', 2.6));
series.push(lineSeries(namesC[2], 4, cTP3, 'TP3', 2.6));
series.push(lineSeries(namesC[3], 4, cTP4, 'TP4', 2.6));
// significance bars
series.push(sigSeries(0, sigTargets, 2));
series.push(sigSeries(1, sigDistractors, 2));
series.push(sigSeries(2, sigSeqA, 2));
series.push(sigSeries(3, sigSeqB, 2));
series.push(sigSeries(4, sigTP, 2.5));

const legendBase = {orient: 'vertical', padding: [4, 8, 4, 8], itemGap: 4.5, itemWidth: 25, itemHeight: 3,
  icon: 'rect', selectedMode: false, backgroundColor: '#ffffff'};

const option = {
  backgroundColor: '#ffffff',
  animation: false,
  grid: [
    {left: 84, top: 105, width: 254, height: 241, show: true, backgroundColor: '#fbfbfb', borderWidth: 0},
    {left: 507.5, top: 105, width: 255.5, height: 241, show: true, backgroundColor: '#fbfbfb', borderWidth: 0},
    {left: 88, top: 496, width: 254, height: 241},
    {left: 507, top: 500, width: 255, height: 239},
    {left: 82.5, top: 887, width: 256, height: 240, show: true, backgroundColor: '#fbfbfb', borderWidth: 0}
  ],
  xAxis: [xAxisFor(0, 8), xAxisFor(1, 8), xAxisFor(2, 8.5), xAxisFor(3, 9.5), xAxisFor(4, 9)],
  yAxis: [yAxisFor(0, 0.47, 0.55, yTicksStim, 9), yAxisFor(1, 0.47, 0.55, yTicksStim, 8.5),
          yAxisFor(2, 0.47, 0.55, yTicksStim, 8.5), yAxisFor(3, 0.47, 0.55, yTicksStim, 8.5),
          yAxisFor(4, 0.47, 0.65, yTicksTP, 8.5)],
  legend: [
    Object.assign({}, legendBase, {data: ['T1','T2','T3'], left: 252, top: 113,
      textStyle: {fontSize: 16.5, fontFamily: DV, color: '#000', lineHeight: 20, padding: [0,0,0,12]}}),
    Object.assign({}, legendBase, {data: ['D1','D2','D3'], left: 674, top: 114,
      textStyle: {fontSize: 16.5, fontFamily: DV, color: '#000', lineHeight: 20, padding: [0,0,0,13]}}),
    Object.assign({}, legendBase, {data: namesC, left: 347, top: 895, itemGap: 4.3,
      backgroundColor: 'transparent', formatter: name => toRich(name),
      textStyle: {fontSize: 16.5, fontFamily: SANS, color: '#000', lineHeight: 20, padding: [0,0,0,12],
                  rich: richText(16.5, 8.5)}})
  ],
  graphic: [
    {type: 'text', x: 14, y: 20.3, style: {text: '(A) Stimulus decoding per stimulus position', fontSize: 23, fontFamily: SANS, fill: '#000', verticalAlign: 'middle'}},
    {type: 'text', x: 77, y: 51.4, style: {text: '{n|Localizer }{a|\u27F6}{n| Attention task}', verticalAlign: 'middle',
      rich: {n: {fontSize: 20, fontFamily: SANS, color: '#000', lineHeight: 23}, a: {fontSize: 22, fontFamily: DV, color: '#000', lineHeight: 23}}}},
    {type: 'text', x: 77, y: 80.6, style: {text: 'Targets', fontSize: 19.5, fontFamily: SANS, fill: '#000', verticalAlign: 'middle'}},
    {type: 'text', x: 498, y: 81.6, style: {text: 'Distractors', fontSize: 19.5, fontFamily: SANS, fill: '#000', verticalAlign: 'middle'}},
    {type: 'text', x: 14, y: 443.7, style: {text: '(B) Stimulus decoding per temporal position', fontSize: 23, fontFamily: SANS, fill: '#000', verticalAlign: 'middle'}},
    {type: 'text', x: 78, y: 470.5, style: {text: toRich('T1D1T2D2D3'), rich: richText(19, 9, [0, 1.5, 0, 0.5]), verticalAlign: 'middle'}},
    {type: 'text', x: 500, y: 470.5, style: {text: toRich('T1T2D1D2D3'), rich: richText(19, 9, [0, 1.5, 0, 0.5]), verticalAlign: 'middle'}},
    {type: 'text', x: 14, y: 832.4, style: {text: '(C) Target vs. distractor decoding per temporal position', fontSize: 22, fontFamily: SANS, fill: '#000', verticalAlign: 'middle'}},
    {type: 'text', x: 78, y: 863.2, style: {text: 'Attention task', fontSize: 20, fontFamily: SANS, fill: '#000', verticalAlign: 'middle'}}
  ],
  series
};

const chart = echarts.init(document.getElementById('chart'), null, {renderer: 'canvas'});
chart.setOption(option);
</script>
</body>
</html>
